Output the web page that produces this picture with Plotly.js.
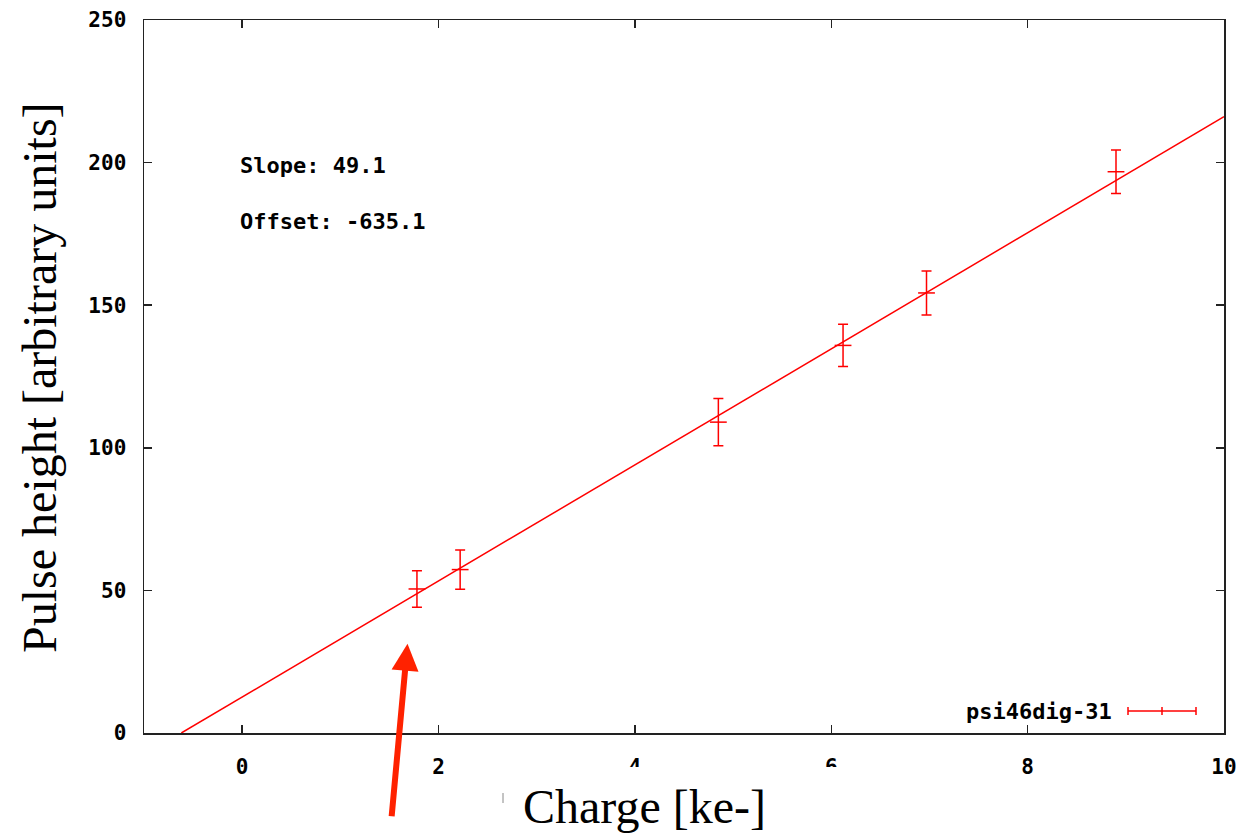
<!DOCTYPE html>
<html>
<head>
<meta charset="utf-8">
<script src="https://cdn.plot.ly/plotly-3.0.1.min.js"></script>
<style>html,body{margin:0;padding:0;background:#fff;}#chart{width:1249px;height:834px;}</style>
</head>
<body>
<div id="chart"></div>
<script>
// Measured points (charge in ke-, pulse height in arbitrary units)
var chargeX = [1.78, 2.22, 4.85, 6.12, 6.97, 8.90];
var pulseY  = [50.5, 57.3, 109.0, 135.9, 154.3, 196.8];
var errY    = [6.4, 6.9, 8.3, 7.4, 7.7, 7.6];

// Fitted line end points
var fitX = [-0.62, 10];
var fitY = [0, 216.1];

var xTicks = [0, 2, 4, 6, 8, 10];
var yTicks = [0, 50, 100, 150, 200, 250];

var seriesName = 'psi46dig-31';
var slopeText = 'Slope: 49.1';
var offsetText = 'Offset: -635.1';
var xTitle = 'Charge [ke-]';
var yTitle = 'Pulse height [arbitrary units]';

var red = '#ff0000';
var monoFont = {family: 'DejaVu Sans Mono, Liberation Mono, monospace', size: 22, color: '#000', weight: 'bold'};
var tickFont = {family: 'DejaVu Sans Mono, Liberation Mono, monospace', size: 21, color: '#000', weight: 'bold'};
var serifFont = {family: 'Liberation Serif, Times New Roman, serif', size: 48, color: '#000'};

var traces = [
  {
    x: fitX, y: fitY, mode: 'lines', type: 'scatter',
    line: {color: red, width: 1.5}, showlegend: false, hoverinfo: 'skip'
  },
  {
    x: chargeX, y: pulseY, mode: 'markers', type: 'scatter', name: seriesName,
    marker: {symbol: 'line-ew', size: 12, color: red, line: {color: red, width: 1.5}},
    error_y: {type: 'data', array: errY, visible: true, color: red, thickness: 1.5, width: 5},
    showlegend: false
  }
];

// plot area geometry in pixels for paper-coordinate helpers
var L = 144, R = 1224, T = 20, B = 733;
function px(x){ return (x - L) / (R - L); }
function py(y){ return (B - y) / (B - T); }

var legY = py(711);
var capH = 4 / (B - T);

var layout = {
  width: 1249, height: 834,
  margin: {l: L, r: 1249 - R, t: T, b: 834 - B},
  paper_bgcolor: '#fff', plot_bgcolor: '#fff',
  showlegend: false,
  xaxis: {
    range: [-1, 10], tickvals: xTicks, ticktext: xTicks.map(String),
    ticks: 'inside', ticklen: 8, tickwidth: 1.5, tickcolor: '#222',
    showline: true, linecolor: '#222', linewidth: 1.5, mirror: 'ticks',
    showgrid: false, zeroline: false, tickfont: tickFont, ticklabelstandoff: 14
  },
  yaxis: {
    range: [0, 250], tickvals: yTicks, ticktext: yTicks.map(String),
    ticks: 'inside', ticklen: 8, tickwidth: 1.5, tickcolor: '#222',
    showline: true, linecolor: '#222', linewidth: 1.5, mirror: 'ticks',
    showgrid: false, zeroline: false, tickfont: tickFont, ticklabelstandoff: 12
  },
  shapes: [
    // white patch that hides the lower part of some tick labels (as in the reference)
    {type: 'rect', xref: 'paper', yref: 'paper', x0: px(505), x1: px(870), y0: py(767), y1: py(834),
     fillcolor: '#fff', line: {width: 0}, layer: 'above'},
    {type: 'line', xref: 'paper', yref: 'paper', x0: px(503), x1: px(503), y0: py(793), y1: py(803),
     line: {color: '#888', width: 1}, layer: 'above'},
    // legend sample
    {type: 'line', xref: 'paper', yref: 'paper', x0: px(1128), x1: px(1196), y0: legY, y1: legY,
     line: {color: red, width: 1.5}},
    {type: 'line', xref: 'paper', yref: 'paper', x0: px(1128), x1: px(1128), y0: legY - capH, y1: legY + capH,
     line: {color: red, width: 1.5}},
    {type: 'line', xref: 'paper', yref: 'paper', x0: px(1162), x1: px(1162), y0: legY - capH, y1: legY + capH,
     line: {color: red, width: 1.5}},
    {type: 'line', xref: 'paper', yref: 'paper', x0: px(1196), x1: px(1196), y0: legY - capH, y1: legY + capH,
     line: {color: red, width: 1.5}}
  ],
  annotations: [
    {text: slopeText, xref: 'paper', yref: 'paper', x: px(238), y: py(165), xanchor: 'left', yanchor: 'middle',
     showarrow: false, font: monoFont},
    {text: offsetText, xref: 'paper', yref: 'paper', x: px(238), y: py(221), xanchor: 'left', yanchor: 'middle',
     showarrow: false, font: monoFont},
    {text: seriesName, xref: 'paper', yref: 'paper', x: px(1114), y: legY, xanchor: 'right', yanchor: 'middle',
     showarrow: false, font: monoFont},
    {text: xTitle, xref: 'paper', yref: 'paper', x: px(644), y: py(806), xanchor: 'center', yanchor: 'middle',
     showarrow: false, font: serifFont},
    {text: yTitle, xref: 'paper', yref: 'paper', x: px(40), y: py(378), xanchor: 'center', yanchor: 'middle',
     textangle: -90, showarrow: false, font: serifFont},
    // red arrow pointing at the first point
    {text: '', x: 1.684, y: 31.3, xref: 'x', yref: 'y', showarrow: true, ax: -16, ay: 174,
     arrowcolor: '#ff2200', arrowwidth: 6, arrowhead: 2, arrowsize: 0.9, standoff: 0}
  ]
};

Plotly.newPlot('chart', traces, layout, {displayModeBar: false, staticPlot: true});
</script>
</body>
</html>
